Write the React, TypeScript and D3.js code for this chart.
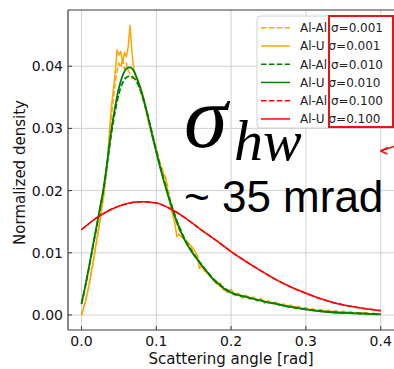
import React from "react";
import * as d3 from "d3";

const xTicks = [0, 0.1, 0.2, 0.3, 0.4];
const yTicks = [0, 0.01, 0.02, 0.03, 0.04];

const smoothX = [0, 0.005, 0.01, 0.015, 0.02, 0.025, 0.03, 0.035, 0.04, 0.045, 0.05, 0.055, 0.06, 0.065, 0.07, 0.075, 0.08, 0.085, 0.09, 0.095, 0.1, 0.105, 0.11, 0.115, 0.12, 0.125, 0.13, 0.135, 0.14, 0.145, 0.15, 0.155, 0.16, 0.165, 0.17, 0.175, 0.18, 0.185, 0.19, 0.195, 0.2, 0.21, 0.22, 0.23, 0.24, 0.25, 0.26, 0.27, 0.28, 0.29, 0.3, 0.32, 0.34, 0.36, 0.38, 0.4];
const greenU = [0.0018, 0.0046, 0.0077, 0.011, 0.0142, 0.0174, 0.0208, 0.0252, 0.0298, 0.0335, 0.0365, 0.0385, 0.0396, 0.0398, 0.0392, 0.0378, 0.036, 0.0338, 0.0313, 0.0287, 0.0262, 0.0238, 0.0216, 0.0195, 0.0176, 0.0158, 0.0142, 0.0128, 0.0116, 0.0106, 0.0097, 0.0089, 0.0081, 0.0074, 0.0066, 0.0059, 0.0053, 0.0048, 0.0043, 0.0039, 0.0036, 0.0032, 0.0029, 0.0026, 0.0023, 0.002, 0.0018, 0.0015, 0.0013, 0.0011, 0.0009, 0.0006, 0.0004, 0.0003, 0.0002, 0.0001];
const greenAl = [0.0018, 0.0045, 0.0076, 0.0108, 0.014, 0.0172, 0.0205, 0.0248, 0.0292, 0.0328, 0.0356, 0.0373, 0.0382, 0.0384, 0.0381, 0.0372, 0.0357, 0.0337, 0.0314, 0.0289, 0.0264, 0.024, 0.0218, 0.0197, 0.0178, 0.016, 0.0144, 0.013, 0.0117, 0.0107, 0.0098, 0.009, 0.0082, 0.0074, 0.0067, 0.006, 0.0054, 0.0049, 0.0044, 0.004, 0.0036, 0.0032, 0.0029, 0.0026, 0.0023, 0.002, 0.0018, 0.0015, 0.0013, 0.0011, 0.0009, 0.0006, 0.0004, 0.0003, 0.0002, 0.0001];

const redX = [0, 0.02, 0.04, 0.06, 0.08, 0.1, 0.12, 0.14, 0.16, 0.18, 0.2, 0.22, 0.24, 0.26, 0.28, 0.3, 0.32, 0.34, 0.36, 0.38, 0.4];
const redU = [0.0137, 0.0156, 0.017, 0.0179, 0.0182, 0.018, 0.017, 0.0155, 0.0137, 0.012, 0.0102, 0.0086, 0.0071, 0.0057, 0.0045, 0.0035, 0.0026, 0.0019, 0.0014, 0.001, 0.0007];
const redAl = [0.0137, 0.0156, 0.017, 0.0179, 0.0182, 0.018, 0.017, 0.0155, 0.0137, 0.012, 0.0102, 0.0086, 0.0071, 0.0057, 0.0045, 0.0035, 0.0026, 0.0019, 0.0014, 0.001, 0.0007];

const orangeX = [0, 0.005, 0.01, 0.015, 0.02, 0.025, 0.03, 0.035, 0.04, 0.045, 0.0475, 0.05, 0.0525, 0.055, 0.0575, 0.06, 0.0625, 0.065, 0.0675, 0.07, 0.0725, 0.075, 0.08, 0.085, 0.09, 0.095, 0.1, 0.105, 0.11, 0.1125, 0.115, 0.12, 0.125, 0.1275, 0.13, 0.135, 0.14, 0.145, 0.15, 0.155, 0.1575, 0.16, 0.165, 0.17, 0.175, 0.18, 0.185, 0.19, 0.195, 0.2, 0.205, 0.21, 0.215, 0.22, 0.225, 0.23, 0.235, 0.24, 0.245, 0.25, 0.255, 0.26, 0.265, 0.27, 0.275, 0.28, 0.285, 0.29, 0.295, 0.3, 0.305, 0.31, 0.315, 0.32, 0.325, 0.33, 0.335, 0.34, 0.345, 0.35, 0.355, 0.36, 0.365, 0.37, 0.375, 0.38, 0.385, 0.39, 0.395, 0.4];
const orangeU = [0, 0.002, 0.0048, 0.0082, 0.0118, 0.0156, 0.0196, 0.0255, 0.0335, 0.0388, 0.0426, 0.0418, 0.0424, 0.0405, 0.0422, 0.0415, 0.0432, 0.0466, 0.042, 0.0396, 0.0384, 0.0376, 0.0356, 0.0334, 0.0308, 0.0284, 0.0264, 0.024, 0.0226, 0.0222, 0.0198, 0.017, 0.0146, 0.0126, 0.013, 0.0124, 0.012, 0.0113, 0.0106, 0.0096, 0.0075, 0.0078, 0.0073, 0.0064, 0.0058, 0.005, 0.0052, 0.004, 0.0038, 0.0041, 0.0031, 0.0035, 0.0027, 0.0032, 0.0025, 0.0029, 0.0022, 0.0027, 0.0019, 0.0023, 0.0018, 0.0021, 0.0015, 0.0018, 0.0014, 0.0016, 0.0011, 0.0014, 0.001, 0.0012, 0.0008, 0.001, 0.0006, 0.0009, 0.0005, 0.0008, 0.0005, 0.0007, 0.0003, 0.0006, 0.0004, 0.0005, 0.0002, 0.0004, 0.0003, 0.0004, 0.0001, 0.0003, 0.0001, 0.0002];
const orangeAl = [0, 0.0021, 0.0047, 0.008, 0.0116, 0.0153, 0.0195, 0.025, 0.032, 0.0372, 0.0392, 0.0405, 0.0398, 0.0412, 0.0395, 0.0405, 0.0392, 0.0388, 0.038, 0.0384, 0.0378, 0.0379, 0.0362, 0.0338, 0.0312, 0.0288, 0.0268, 0.0245, 0.0228, 0.0218, 0.0208, 0.0176, 0.0155, 0.0146, 0.0137, 0.0128, 0.0116, 0.011, 0.01, 0.0092, 0.0085, 0.0079, 0.007, 0.0066, 0.0057, 0.0053, 0.0046, 0.0044, 0.0036, 0.0038, 0.0032, 0.0033, 0.0029, 0.003, 0.0026, 0.0027, 0.0023, 0.0025, 0.0021, 0.0022, 0.0019, 0.0019, 0.0016, 0.0017, 0.0014, 0.0015, 0.0012, 0.0013, 0.001, 0.0011, 0.0009, 0.0009, 0.0007, 0.0008, 0.0006, 0.0006, 0.0005, 0.0006, 0.0004, 0.0005, 0.0003, 0.0004, 0.0003, 0.0003, 0.0002, 0.0003, 0.0002, 0.0002, 0.0001, 0.0002];

const legendLabels = ["Al-Al σ=0.001", "Al-U σ=0.001", "Al-Al σ=0.010", "Al-U σ=0.010", "Al-Al σ=0.100", "Al-U σ=0.100"];
const ORANGE = "#ffa500";
const GREEN = "#008000";
const RED = "#ff0000";

export default function App() {
  const W = 394, H = 369;
  const left = 68, top = 10, bottom = 330;
  const x = d3.scaleLinear().domain([0, 0.4]).range([81.5, 380.7]);
  const y = d3.scaleLinear().domain([0, 0.04]).range([315, 66.2]);
  const font = "'DejaVu Sans', sans-serif";

  const mk = (xs: number[], ys: number[], curve: any) =>
    d3.line<number>().x((_, i) => x(xs[i])).y((v) => y(v)).curve(curve)(ys) || "";

  const series = [
    { d: mk(orangeX, orangeAl, d3.curveLinear), c: ORANGE, dash: "5.5,2.4", w: 1.5 },
    { d: mk(orangeX, orangeU, d3.curveLinear), c: ORANGE, dash: "", w: 1.5 },
    { d: mk(smoothX, greenAl, d3.curveMonotoneX), c: GREEN, dash: "5.5,2.4", w: 1.8 },
    { d: mk(smoothX, greenU, d3.curveMonotoneX), c: GREEN, dash: "", w: 1.8 },
    { d: mk(redX, redAl, d3.curveMonotoneX), c: RED, dash: "5.5,2.4", w: 1.5 },
    { d: mk(redX, redU, d3.curveMonotoneX), c: RED, dash: "", w: 1.5 },
  ];

  return (
    <svg width={W} height={H} style={{ position: "absolute", left: 0, top: 0, background: "#fff" }}>
      <rect x={0} y={0} width={W} height={H} fill="#fff" />
      <defs>
        <clipPath id="plot">
          <rect x={left} y={top} width={W} height={bottom - top} />
        </clipPath>
      </defs>
      {xTicks.map((t) => (
        <line key={"gx" + t} x1={x(t)} x2={x(t)} y1={top} y2={bottom} stroke="#d0d0d0" strokeWidth={1} />
      ))}
      {yTicks.map((t) => (
        <line key={"gy" + t} x1={left} x2={W} y1={y(t)} y2={y(t)} stroke="#d0d0d0" strokeWidth={1} />
      ))}
      <g clipPath="url(#plot)">
        {series.map((s, i) => (
          <path key={i} d={s.d} fill="none" stroke={s.c} strokeWidth={s.w} strokeDasharray={s.dash || undefined} strokeLinejoin="round" />
        ))}
      </g>
      <line x1={left} x2={left} y1={top} y2={bottom} stroke="#3a3a3a" strokeWidth={1.2} />
      <line x1={left} x2={W + 5} y1={top} y2={top} stroke="#3a3a3a" strokeWidth={1.2} />
      <line x1={left} x2={W + 5} y1={bottom} y2={bottom} stroke="#3a3a3a" strokeWidth={1.2} />
      {xTicks.map((t) => (
        <g key={"tx" + t}>
          <line x1={x(t)} x2={x(t)} y1={bottom} y2={bottom - 4} stroke="#3a3a3a" strokeWidth={1} />
          <text x={x(t)} y={346} textAnchor="middle" fontFamily={font} fontSize={14} fill="#111">{t.toFixed(1)}</text>
        </g>
      ))}
      {yTicks.map((t) => (
        <g key={"ty" + t}>
          <line x1={left} x2={left + 4} y1={y(t)} y2={y(t)} stroke="#3a3a3a" strokeWidth={1} />
          <text x={63} y={y(t) + 5} textAnchor="end" fontFamily={font} fontSize={14} fill="#111">{t.toFixed(2)}</text>
        </g>
      ))}
      <text x={231} y={364} textAnchor="middle" fontFamily={font} fontSize={15} fill="#111">Scattering angle [rad]</text>
      <text transform="translate(24.5,172.5) rotate(-90)" textAnchor="middle" fontFamily={font} fontSize={15} fill="#111">Normalized density</text>
      <rect x={257} y={16} width={150} height={112} rx={3} fill="#fff" fillOpacity={0.85} stroke="#d0d0d0" strokeWidth={1} />
      {legendLabels.map((lab, i) => {
        const s = series[i];
        const yy = 27.7 + i * 18.25;
        return (
          <g key={lab}>
            <line x1={261} x2={290} y1={yy} y2={yy} stroke={s.c} strokeWidth={1.5} strokeDasharray={s.dash || undefined} />
            <text x={300} y={yy + 4.3} fontFamily={font} fontSize={12} fill="#222">{lab}</text>
          </g>
        );
      })}
      <rect x={329} y={16} width={64} height={111} fill="none" stroke="#ee1111" strokeWidth={2} />
      <line x1={394} y1={146.5} x2={381} y2={150.8} stroke="#ee1111" strokeWidth={1.5} />
      <line x1={380.5} y1={151} x2={388} y2={147.5} stroke="#ee1111" strokeWidth={1.5} />
      <line x1={380.5} y1={151} x2={387.5} y2={154} stroke="#ee1111" strokeWidth={1.5} />
      <text x={184} y={147} fontFamily="'Liberation Serif', serif" fontStyle="italic" fontSize={88} fill="#000">σ</text>
      <text x={234} y={160} fontFamily="'Liberation Serif', serif" fontStyle="italic" fontSize={58} fill="#000">hw</text>
      <text x={184} y={212} fontFamily="'Liberation Sans', Arial, sans-serif" fontSize={44} fill="#000">~ 35 mrad</text>
    </svg>
  );
}
